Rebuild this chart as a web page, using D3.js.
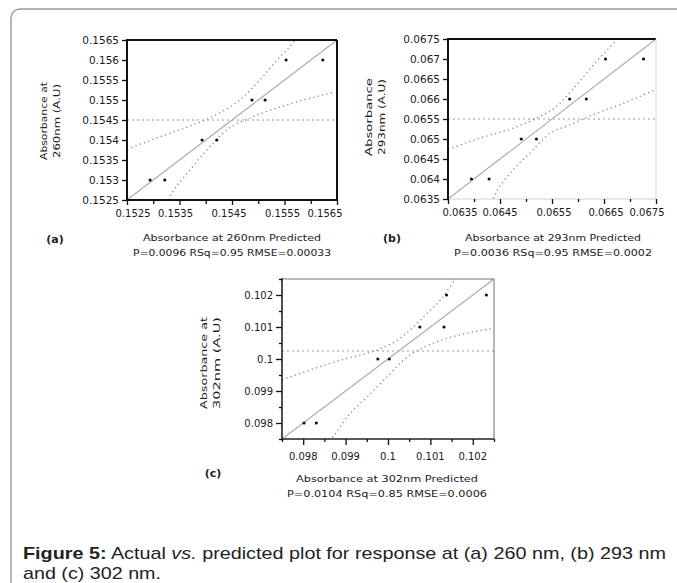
<!DOCTYPE html>
<html><head><meta charset="utf-8">
<script src="https://cdn.jsdelivr.net/npm/d3@7"></script>
<style>
body{margin:0;background:#fff;}
svg{display:block;}
</style></head><body>
<svg id="chart" width="677" height="583"></svg>
<script>
// ---------- Panel (a): 260 nm ----------
const aDomain = [0.1525, 0.1565];
const aTicks = [0.1525,0.153,0.1535,0.154,0.1545,0.155,0.1555,0.156,0.1565];
const aYLabels = ["0.1525","0.153","0.1535","0.154","0.1545","0.155","0.1555","0.156","0.1565"];
const aXLabelVals = [0.1525,0.1535,0.1545,0.1555,0.1565];
const aXLabels = ["0.1525","0.1535","0.1545","0.1555","0.1565"];
const aPredicted = [0.15294,0.15322,0.15393,0.15421,0.15488,0.15513,0.15553,0.15623];
const aActual    = [0.1530, 0.1530, 0.1540, 0.1540, 0.1550, 0.1550, 0.1560, 0.1560];
const aMean = 0.1545;
const aUpperX = [0.1525,0.15313,0.15376,0.15427,0.15465,0.15503,0.15536,0.15566,0.1558];
const aUpperY = [0.15377,0.15408,0.15438,0.15468,0.15500,0.15550,0.15600,0.15643,0.1567];
const aLowerX = [0.1532,0.15336,0.15370,0.15402,0.15440,0.15490,0.15555,0.15646];
const aLowerY = [0.1523,0.15268,0.15325,0.15375,0.15425,0.15458,0.15488,0.15520];
const aXTitle = ["Absorbance at 260nm Predicted","P=0.0096 RSq=0.95 RMSE=0.00033"];
const aYTitle = ["Absorbance at","260nm (A.U)"];

// ---------- Panel (b): 293 nm ----------
const bDomain = [0.0635, 0.0675];
const bTicks = [0.0635,0.064,0.0645,0.065,0.0655,0.066,0.0665,0.067,0.0675];
const bYLabels = ["0.0635","0.064","0.0645","0.065","0.0655","0.066","0.0665","0.067","0.0675"];
const bXLabelVals = [0.0635,0.0645,0.0655,0.0665,0.0675];
const bXLabels = ["0.0635","0.0645","0.0655","0.0665","0.0675"];
const bPredicted = [0.06395,0.06429,0.06491,0.06520,0.06584,0.06616,0.06653,0.06726];
const bActual    = [0.0640, 0.0640, 0.0650, 0.0650, 0.0660, 0.0660, 0.0670, 0.0670];
const bMean = 0.0655;
const bUpperX = [0.0635,0.06411,0.06475,0.06520,0.06558,0.06597,0.06635,0.06671,0.0669];
const bUpperY = [0.06474,0.06502,0.06527,0.06552,0.06581,0.06635,0.06693,0.06743,0.0677];
const bLowerX = [0.0643,0.06440,0.06469,0.06507,0.06546,0.06584,0.06635,0.06687,0.0675];
const bLowerY = [0.0633,0.06360,0.06414,0.06464,0.06514,0.06535,0.06564,0.06589,0.06624];
const bXTitle = ["Absorbance at 293nm Predicted","P=0.0036 RSq=0.95 RMSE=0.0002"];
const bYTitle = ["Absorbance","293nm (A.U)"];

// ---------- Panel (c): 302 nm ----------
const cDomain = [0.0975, 0.1025];
const cTicks = [0.0975,0.098,0.0985,0.099,0.0995,0.1,0.1005,0.101,0.1015,0.102,0.1025];
const cLabelVals = [0.098,0.099,0.1,0.101,0.102];
const cLabels = ["0.098","0.099","0.1","0.101","0.102"];
const cPredicted = [0.09802,0.09831,0.09976,0.10003,0.10075,0.10132,0.10138,0.10232];
const cActual    = [0.0980, 0.0980, 0.1000, 0.1000, 0.1010, 0.1010, 0.1020, 0.1020];
const cMean = 0.10025;
const cUpperX = [0.0975,0.09819,0.09897,0.09976,0.10030,0.10061,0.10093,0.10124,0.10151,0.1017];
const cUpperY = [0.09935,0.09967,0.1000,0.10029,0.10066,0.10102,0.10144,0.10185,0.10235,0.1027];
const cLowerX = [0.0985,0.09874,0.09905,0.09952,0.09999,0.10038,0.10108,0.10171,0.1025];
const cLowerY = [0.0972,0.09763,0.09821,0.09883,0.09946,0.09998,0.1005,0.10076,0.10096];
const cXTitle = ["Absorbance at 302nm Predicted","P=0.0104 RSq=0.85 RMSE=0.0006"];
const cYTitle = ["Absorbance at","302nm (A.U)"];

const captionLine2 = "and (c) 302 nm.";

const svg = d3.select("#chart");
const FONT = "DejaVu Sans, Verdana, sans-serif";

// outer frame
svg.append("rect").attr("x",11).attr("y",9).attr("width",720).attr("height",640)
  .attr("rx",9).attr("fill","none").attr("stroke","#9a9a9a").attr("stroke-width",1.4);

function panel(cfg, id){
  const g = svg.append("g");
  const x = d3.scaleLinear().domain(cfg.xDomain).range([cfg.left, cfg.right]);
  const y = d3.scaleLinear().domain(cfg.yDomain).range([cfg.bottom, cfg.top]);
  g.append("clipPath").attr("id","clip"+id).append("rect")
    .attr("x",cfg.left).attr("y",cfg.top).attr("width",cfg.right-cfg.left).attr("height",cfg.bottom-cfg.top);
  const inner = g.append("g").attr("clip-path","url(#clip"+id+")");
  inner.append("line").attr("x1",cfg.left).attr("x2",cfg.right)
    .attr("y1",y(cfg.mean)).attr("y2",y(cfg.mean))
    .attr("stroke","#9a9a9a").attr("stroke-width",1.2).attr("stroke-dasharray","2,3");
  const ln = d3.line().x(d=>x(d[0])).y(d=>y(d[1])).curve(d3.curveMonotoneX);
  [[cfg.upX,cfg.upY],[cfg.loX,cfg.loY]].forEach(([xs,ys])=>{
    inner.append("path").attr("d",ln(xs.map((v,i)=>[v,ys[i]])))
      .attr("fill","none").attr("stroke","#8a8a8a").attr("stroke-width",1.3)
      .attr("stroke-dasharray","1.3,3.2");
  });
  inner.append("line").attr("x1",x(cfg.xDomain[0])).attr("y1",y(cfg.xDomain[0]))
    .attr("x2",x(cfg.xDomain[1])).attr("y2",y(cfg.xDomain[1]))
    .attr("stroke","#a8a8a8").attr("stroke-width",1.1);
  inner.selectAll("circle.pt").data(cfg.pred).join("circle").attr("class","pt")
    .attr("cx",d=>x(d)).attr("cy",(d,i)=>y(cfg.act[i])).attr("r",1.6).attr("fill","#111");
  const b = cfg.border;
  const seg = (x1,y1,x2,y2,s)=>g.append("line").attr("x1",x1).attr("y1",y1).attr("x2",x2).attr("y2",y2)
     .attr("stroke",s[0]).attr("stroke-width",s[1]);
  seg(cfg.left,cfg.top,cfg.right,cfg.top,b.top);
  seg(cfg.right,cfg.top,cfg.right,cfg.bottom,b.right);
  seg(cfg.left,cfg.bottom,cfg.right,cfg.bottom,b.bottom);
  seg(cfg.left,cfg.top-1,cfg.left,cfg.bottom+1,b.left);
  const yAx = d3.axisLeft(y).tickValues(cfg.yTicks).tickSize(cfg.tick)
     .tickFormat(d=>{const k=cfg.yLabelVals.findIndex(v=>Math.abs(v-d)<1e-9);return k<0?"":cfg.yLabels[k];});
  const ya = g.append("g").attr("transform",`translate(${cfg.left},0)`).call(yAx);
  ya.select(".domain").remove();
  ya.selectAll(".tick line").attr("stroke","#111").attr("stroke-width",1.3)
    .attr("x2",(d)=>cfg.yLabelVals.some(v=>Math.abs(v-d)<1e-9)?-cfg.tick:-cfg.minor);
  ya.selectAll(".tick text").attr("font-family",FONT).attr("font-size",cfg.yFont).attr("fill","#1a1a1a");
  const xAx = d3.axisBottom(x).tickValues(cfg.xTicks).tickSize(cfg.tick).tickFormat("");
  const xa = g.append("g").attr("transform",`translate(0,${cfg.bottom})`).call(xAx);
  xa.select(".domain").remove();
  xa.selectAll(".tick line").attr("stroke","#111").attr("stroke-width",1.3)
    .attr("y2",(d)=>cfg.xLabelVals.some(v=>Math.abs(v-d)<1e-9)?cfg.tick:cfg.minor);
  g.selectAll("text.xl").data(cfg.xLabelVals).join("text").attr("class","xl")
    .attr("x",(d,i)=>x(d)+cfg.xdx[i]).attr("y",cfg.bottom+cfg.xLabY)
    .attr("text-anchor","middle").attr("font-family",FONT).attr("font-size",cfg.xFont)
    .attr("fill","#1a1a1a").text((d,i)=>cfg.xLabels[i]);
  cfg.xTitle.forEach((t,i)=>{
    g.append("text").attr("x",cfg.xtX).attr("y",cfg.xtY+i*15).attr("text-anchor","middle")
      .attr("font-family",FONT).attr("font-size",9.5).attr("fill","#1a1a1a")
      .attr("textLength",cfg.xtLen[i]).attr("lengthAdjust","spacingAndGlyphs").text(t);
  });
  cfg.yTitle.forEach((t,i)=>{
    g.append("text").attr("transform",`translate(${cfg.ytX+i*13},${cfg.ytY}) rotate(-90)`)
      .attr("text-anchor","middle").attr("font-family",FONT).attr("font-size",9.5).attr("fill","#1a1a1a")
      .attr("textLength",cfg.ytLen[i]).attr("lengthAdjust","spacingAndGlyphs").text(t);
  });
  g.append("text").attr("x",cfg.labX).attr("y",cfg.labY).attr("text-anchor","middle")
    .attr("font-family",FONT).attr("font-size",11).attr("font-weight","bold").attr("fill","#222").text(cfg.label);
}

panel({xDomain:aDomain,yDomain:aDomain,left:127,right:337,top:40,bottom:200,
  mean:aMean,upX:aUpperX,upY:aUpperY,loX:aLowerX,loY:aLowerY,pred:aPredicted,act:aActual,
  border:{top:["#111",2.2],right:["#111",2],bottom:["#111",2],left:["#111",2]},
  yTicks:aTicks,yLabelVals:aTicks,yLabels:aYLabels,xTicks:aTicks,xLabelVals:aXLabelVals,
  xLabels:aXLabels,tick:5,minor:4,yFont:10.5,xFont:10,xLabY:17,xdx:[6,-4,-3,-2,-12],
  xTitle:aXTitle,xtX:232,xtY:241,xtLen:[178,198],yTitle:aYTitle,ytX:47,ytY:121,ytLen:[78,74],
  label:"(a)",labX:55,labY:243},"a");
panel({xDomain:bDomain,yDomain:bDomain,left:448,right:656,top:39,bottom:199,
  mean:bMean,upX:bUpperX,upY:bUpperY,loX:bLowerX,loY:bLowerY,pred:bPredicted,act:bActual,
  border:{top:["#111",2.2],right:["#d8d8d8",1],bottom:["#d0d0d0",1],left:["#111",2]},
  yTicks:bTicks,yLabelVals:bTicks,yLabels:bYLabels,xTicks:bTicks,xLabelVals:bXLabelVals,
  xLabels:bXLabels,tick:5,minor:3,yFont:10.5,xFont:10,xLabY:17,xdx:[12,0,2,2,-9],
  xTitle:bXTitle,xtX:553,xtY:241,xtLen:[176,198],yTitle:bYTitle,ytX:372,ytY:117,ytLen:[78,76],
  label:"(b)",labX:392,labY:242},"b");
panel({xDomain:cDomain,yDomain:cDomain,left:282,right:494,top:279,bottom:439,
  mean:cMean,upX:cUpperX,upY:cUpperY,loX:cLowerX,loY:cLowerY,pred:cPredicted,act:cActual,
  border:{top:["#777",1.2],right:["#888",1.2],bottom:["#222",1.6],left:["#222",1.6]},
  yTicks:cTicks,yLabelVals:cLabelVals,yLabels:cLabels,xTicks:cTicks,xLabelVals:cLabelVals,
  xLabels:cLabels,tick:6,minor:3,yFont:10,xFont:10,xLabY:21,xdx:[0,0,0,0,0],
  xTitle:cXTitle,xtX:387,xtY:482,xtLen:[182,200],yTitle:cYTitle,ytX:207,ytY:363,ytLen:[92,92],
  label:"(c)",labX:213,labY:477},"c");

// caption
const CAPF = "Liberation Sans, Arial, sans-serif";
const cap = svg.append("text").attr("x",23).attr("y",559).attr("font-family",CAPF)
  .attr("font-size",17).attr("fill","#222").attr("textLength",643).attr("lengthAdjust","spacingAndGlyphs");
cap.append("tspan").attr("font-weight","bold").text("Figure 5:");
cap.append("tspan").text(" Actual ");
cap.append("tspan").attr("font-style","italic").text("vs.");
cap.append("tspan").text(" predicted plot for response at (a) 260 nm, (b) 293 nm");
svg.append("text").attr("x",23).attr("y",579).attr("font-family",CAPF)
  .attr("font-size",17).attr("fill","#222").attr("textLength",138).attr("lengthAdjust","spacingAndGlyphs")
  .text(captionLine2);
</script>
</body></html>
